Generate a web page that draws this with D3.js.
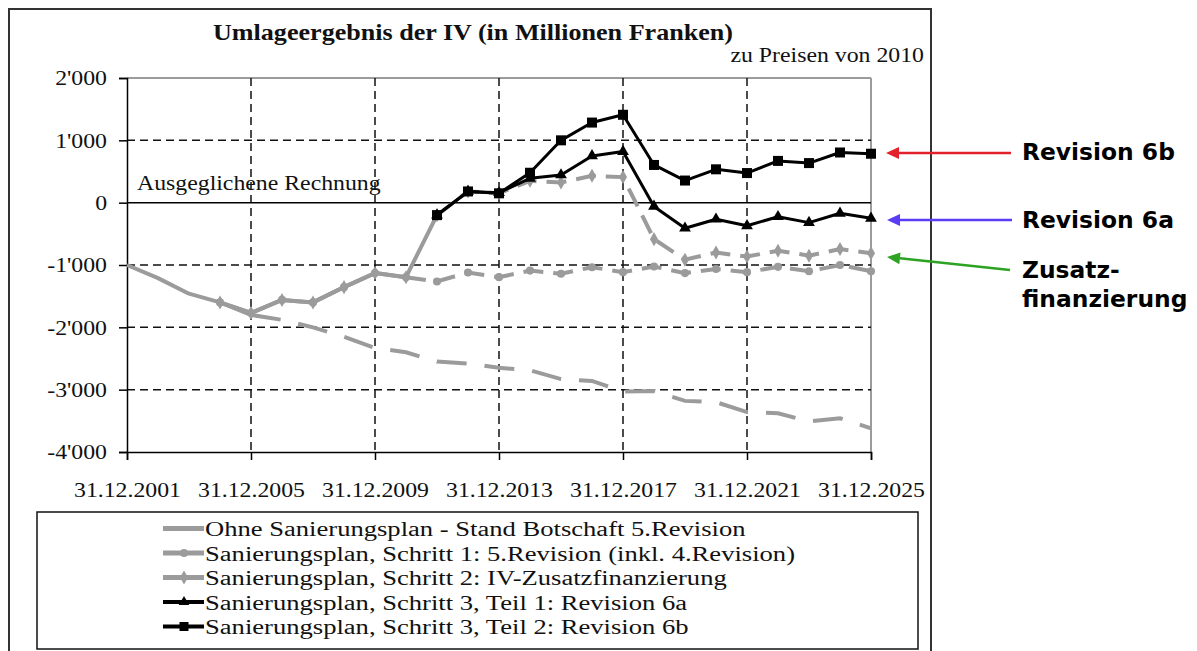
<!DOCTYPE html>
<html>
<head>
<meta charset="UTF-8">
<title>Umlageergebnis der IV</title>
<style>
    body { margin: 0; background: #fff; }
</style>
<script src="https://d3js.org/d3.v7.min.js"></script>
</head>
<body>
<div id="chart"></div>
<script>
    // data (millions of francs)
    const years = [2001, 2002, 2003, 2004, 2005, 2006, 2007, 2008, 2009, 2010, 2011, 2012, 2013,
                   2014, 2015, 2016, 2017, 2018, 2019, 2020, 2021, 2022, 2023, 2024, 2025];
    const ohne     = [-1000, -1210, -1460, -1600, -1800, -1880, -2000, -2150, -2330, -2400, -2550, -2580, -2650,
                      -2690, -2830, -2860, -3030, -3020, -3180, -3200, -3360, -3380, -3510, -3460, -3620];
    const schritt1 = [null, null, null, -1600, -1770, -1560, -1600, -1355, -1130, -1195, -1265, -1120, -1195,
                      -1090, -1140, -1035, -1115, -1025, -1130, -1065, -1115, -1030, -1100, -1000, -1100];
    const schritt2 = [null, null, null, -1600, -1770, -1560, -1600, -1355, -1130, -1195, -200, 180, 150,
                      350, 325, 430, 410, -585, -915, -800, -865, -770, -850, -745, -810];
    const rev6a    = [null, null, null, null, null, null, null, null, null, null, -200, 180, 160,
                      390, 445, 750, 820, -60, -410, -265, -370, -225, -320, -170, -250];
    const rev6b    = [null, null, null, null, null, null, null, null, null, null, -200, 180, 150,
                      480, 1000, 1285, 1410, 605, 355, 535, 475, 670, 635, 805, 785];

    const seriesNames = [
        "Ohne Sanierungsplan - Stand Botschaft 5.Revision",
        "Sanierungsplan, Schritt 1: 5.Revision (inkl. 4.Revision)",
        "Sanierungsplan, Schritt 2: IV-Zusatzfinanzierung",
        "Sanierungsplan, Schritt 3, Teil 1: Revision 6a",
        "Sanierungsplan, Schritt 3, Teil 2: Revision 6b"
    ];
    const xTicks = [2001, 2005, 2009, 2013, 2017, 2021, 2025];
    const yTicks = [2000, 1000, 0, -1000, -2000, -3000, -4000];
    const gridY = [1000, -1000, -2000, -3000];
    const gridX = [2005, 2009, 2013, 2017, 2021];
    const notes = ["Revision 6b", "Revision 6a", "Zusatz-", "finanzierung"];

    const SERIF = '"Liberation Serif", "Times New Roman", serif';
    const SANS = '"DejaVu Sans", "Liberation Sans", Arial, sans-serif';
    const gray = "#9b9b9b";
    const series = [
        {values: ohne,     color: gray,   width: 4,   marker: null,       solidTo: 2005, dash: "30,18"},
        {values: schritt1, color: gray,   width: 4,   marker: "circle",   solidTo: 2010, dash: "20,10"},
        {values: schritt2, color: gray,   width: 4,   marker: "diamond",  solidTo: 2011, dash: "20,10"},
        {values: rev6a,    color: "#000", width: 3,   marker: "triangle", solidTo: 2025, dash: null},
        {values: rev6b,    color: "#000", width: 3,   marker: "square",   solidTo: 2025, dash: null}
    ];

    const svg = d3.select("#chart").append("svg")
        .attr("width", 1197)
        .attr("height", 651);

    // the picture's text is a little wider than a normal Times face: stretch it
    function natWidth(text, family, weight, size) {
        const t = svg.append("text").style("font-family", family).style("font-weight", weight)
            .style("font-size", size + "px").text(text);
        const w = t.node().getComputedTextLength();
        t.remove();
        return w;
    }
    function stretch(sel, factor) {
        sel.each(function() {
            const w = this.getComputedTextLength();
            d3.select(this).attr("textLength", w * factor).attr("lengthAdjust", "spacingAndGlyphs");
        });
    }
    const labelSize = 21.5, legendSize = 20.5;
    const labelStretch = 107 / natWidth("31.12.2001", SERIF, "normal", labelSize);
    const legendStretch = 590 / natWidth(seriesNames[1], SERIF, "normal", legendSize);
    const noteSize = 22 * 153 / natWidth(notes[0], SANS, "bold", 22);

    function serifText(xx, yy, size, txt, anchor) {
        return svg.append("text")
            .attr("x", xx).attr("y", yy)
            .attr("text-anchor", anchor || "start")
            .style("font-family", SERIF).style("font-size", size + "px")
            .attr("fill", "#111")
            .text(txt);
    }

    // outer frame
    svg.append("rect")
        .attr("x", 9).attr("y", 9).attr("width", 922).attr("height", 660)
        .attr("fill", "none").attr("stroke", "#333").attr("stroke-width", 2);

    const x = d3.scaleLinear().domain([2001, 2025]).range([127, 871]);
    const y = d3.scaleLinear().domain([-4000, 2000]).range([452, 78]);

    // title
    serifText(473, 40, 23, "Umlageergebnis der IV (in Millionen Franken)", "middle")
        .style("font-weight", "bold")
        .attr("textLength", 520).attr("lengthAdjust", "spacingAndGlyphs");
    stretch(serifText(924, 62, labelSize, "zu Preisen von 2010", "end"), labelStretch);

    // plot frame
    svg.append("line")
        .attr("x1", x(2001)).attr("x2", x(2025)).attr("y1", y(2000)).attr("y2", y(2000))
        .attr("stroke", gray).attr("stroke-width", 2);
    svg.append("line")
        .attr("x1", x(2025)).attr("x2", x(2025)).attr("y1", y(2000)).attr("y2", y(-4000))
        .attr("stroke", gray).attr("stroke-width", 2);

    // grid
    svg.selectAll(".gy").data(gridY).enter().append("line")
        .attr("x1", x(2001)).attr("x2", x(2025))
        .attr("y1", d => y(d)).attr("y2", d => y(d))
        .attr("stroke", "#111").attr("stroke-width", 1.5).attr("stroke-dasharray", "8,5");
    svg.selectAll(".gx").data(gridX).enter().append("line")
        .attr("x1", d => x(d)).attr("x2", d => x(d))
        .attr("y1", y(2000)).attr("y2", y(-4000))
        .attr("stroke", "#111").attr("stroke-width", 1.5).attr("stroke-dasharray", "8,5");

    // zero line
    svg.append("line")
        .attr("x1", x(2001)).attr("x2", x(2025)).attr("y1", y(0)).attr("y2", y(0))
        .attr("stroke", "#000").attr("stroke-width", 1.5);

    // axes
    const yAxis = svg.append("g")
        .attr("transform", `translate(${x(2001)},0)`)
        .call(d3.axisLeft(y).tickValues(yTicks).tickSize(8).tickPadding(12)
            .tickFormat(d => d3.format(",")(d).replace(/,/g, "'").replace("−", "-")));
    const xAxis = svg.append("g")
        .attr("transform", `translate(0,${y(-4000)})`)
        .call(d3.axisBottom(x).tickValues(xTicks).tickSize(8).tickPadding(20)
            .tickFormat(d => "31.12." + d));
    [xAxis, yAxis].forEach(a => {
        a.attr("font-family", null).attr("font-size", null);
        a.select(".domain").attr("stroke", "#000").attr("stroke-width", 1.5);
        a.selectAll(".tick line").attr("stroke", "#000").attr("stroke-width", 1.5);
        a.selectAll("text")
            .style("font-family", SERIF).style("font-size", labelSize + "px").attr("fill", "#111");
        stretch(a.selectAll("text"), labelStretch);
    });
    xAxis.selectAll("text").attr("y", 45).attr("dy", null);

    stretch(serifText(137, 190, labelSize, "Ausgeglichene Rechnung"), labelStretch);

    // series
    const line = d3.line()
        .defined(d => d.v !== null)
        .x(d => x(d.year)).y(d => y(d.v));

    function drawMarker(g, type, cx, cy, color, s) {
        if (type === "circle") {
            g.append("circle").attr("cx", cx).attr("cy", cy).attr("r", s * 0.45).attr("fill", color);
        } else if (type === "diamond") {
            g.append("path").attr("d", d3.symbol(d3.symbolDiamond, s * s * 0.7)())
                .attr("transform", `translate(${cx},${cy})`).attr("fill", color);
        } else if (type === "triangle") {
            g.append("path").attr("d", d3.symbol(d3.symbolTriangle, s * s * 0.6)())
                .attr("transform", `translate(${cx},${cy})`).attr("fill", color);
        } else if (type === "square") {
            g.append("rect").attr("x", cx - s / 2).attr("y", cy - s / 2)
                .attr("width", s).attr("height", s).attr("fill", color);
        }
    }

    series.forEach(s => {
        const pts = years.map((yr, i) => ({year: yr, v: s.values[i]}));
        const g = svg.append("g");
        const solid = pts.filter(p => p.year <= s.solidTo);
        const dashed = pts.filter(p => p.year >= s.solidTo);
        g.append("path").datum(solid).attr("d", line)
            .attr("fill", "none").attr("stroke", s.color).attr("stroke-width", s.width)
            .attr("stroke-linejoin", "round");
        if (s.dash) {
            g.append("path").datum(dashed).attr("d", line)
                .attr("fill", "none").attr("stroke", s.color).attr("stroke-width", s.width)
                .attr("stroke-dasharray", s.dash);
        }
        if (s.marker) {
            pts.filter(p => p.v !== null).forEach(p =>
                drawMarker(g, s.marker, x(p.year), y(p.v), s.color, s.color === gray ? 9 : 10));
        }
    });

    // legend
    svg.append("rect")
        .attr("x", 37).attr("y", 512).attr("width", 881).attr("height", 137)
        .attr("fill", "#fff").attr("stroke", "#111").attr("stroke-width", 1.5);
    seriesNames.forEach((name, i) => {
        const s = series[i];
        const base = 536 + i * 24.5;
        const ly = base - 7.5;
        svg.append("line").attr("x1", 163).attr("x2", 204).attr("y1", ly).attr("y2", ly)
            .attr("stroke", s.color).attr("stroke-width", s.width + 1);
        if (s.marker) drawMarker(svg, s.marker, 184, ly, s.color, 9);
        stretch(serifText(205, base, legendSize, name), legendStretch);
    });

    // annotations with arrows
    const arrows = [
        {color: "#e3212b", x1: 1011, y1: 153, x2: 886, y2: 153},
        {color: "#5a3cf2", x1: 1012, y1: 220, x2: 887, y2: 220},
        {color: "#2ca323", x1: 1010, y1: 270, x2: 887, y2: 257}
    ];
    arrows.forEach(a => {
        const ang = Math.atan2(a.y2 - a.y1, a.x2 - a.x1);
        const len = 13, hw = 6;
        const bx = a.x2 - len * Math.cos(ang), by = a.y2 - len * Math.sin(ang);
        svg.append("line").attr("x1", a.x1).attr("y1", a.y1).attr("x2", bx).attr("y2", by)
            .attr("stroke", a.color).attr("stroke-width", 2.5);
        svg.append("path")
            .attr("d", `M${a.x2},${a.y2}L${bx + hw * Math.sin(ang)},${by - hw * Math.cos(ang)}` +
                       `L${bx - hw * Math.sin(ang)},${by + hw * Math.cos(ang)}Z`)
            .attr("fill", a.color);
    });
    const noteY = [160, 228, 278, 307];
    notes.forEach((t, i) => {
        svg.append("text")
            .attr("x", 1022).attr("y", noteY[i])
            .style("font-family", SANS).style("font-weight", "bold")
            .style("font-size", noteSize + "px")
            .text(t);
    });
</script>
</body>
</html>
